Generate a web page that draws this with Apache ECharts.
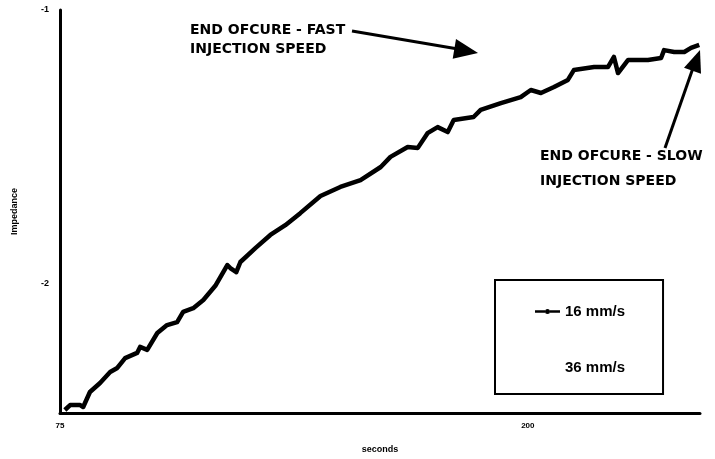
<!DOCTYPE html>
<html>
<head>
<meta charset="utf-8">
<style>
  html, body { margin: 0; padding: 0; background: #fff; }
  #chart { width: 715px; height: 459px; }
</style>
<script src="https://cdn.jsdelivr.net/npm/echarts@6/dist/echarts.min.js"></script>
</head>
<body>
<div id="chart"></div>
<script>
// Cure monitoring trace: impedance against time (seconds)
const seconds = [
  76.3, 77.7, 80.4, 81.2, 83.0, 85.7, 88.4, 90.3, 92.4, 95.6,
  96.4, 98.3, 101.0, 103.6, 106.3, 107.9, 110.6, 113.3, 116.5, 119.7,
  120.5, 122.1, 123.2, 127.2, 131.2, 135.2, 139.2, 144.6, 149.9, 155.3,
  160.7, 163.3, 167.9, 170.6, 173.2, 175.9, 178.6, 180.2, 185.5, 187.4,
  192.8, 198.1, 200.8, 203.5, 207.0, 210.7, 212.3, 217.7, 221.4, 223.0,
  224.1, 226.8, 232.1, 235.6, 236.4, 239.1, 241.8, 243.6, 245.8
];
const impedance = [
  -2.465, -2.447, -2.447, -2.454, -2.399, -2.366, -2.326, -2.311, -2.275, -2.256,
  -2.234, -2.245, -2.183, -2.154, -2.143, -2.106, -2.092, -2.062, -2.010, -1.934,
  -1.945, -1.960, -1.923, -1.872, -1.824, -1.788, -1.744, -1.681, -1.648, -1.623,
  -1.575, -1.538, -1.502, -1.505, -1.451, -1.429, -1.447, -1.403, -1.392, -1.366,
  -1.341, -1.319, -1.293, -1.304, -1.282, -1.256, -1.220, -1.209, -1.209, -1.172,
  -1.231, -1.183, -1.183, -1.176, -1.147, -1.154, -1.154, -1.139, -1.128
];
const seriesNames = ['16 mm/s', '36 mm/s'];
const xTickValues = [75, 200];
const yTickValues = [-1, -2];

const FONT = '"Liberation Sans", Arial, sans-serif';
const ANNOT_FONT = 'bold 14px "DejaVu Sans", sans-serif';
// legend marker: thin line with a solid dot in the middle
const LINE_DOT_ICON = 'path://M0,5.8H10V8.2H0Z M15,5.8H25V8.2H15Z M10,7A2.5,2.5 0 1,1 15,7A2.5,2.5 0 1,1 10,7Z';

const chart = echarts.init(document.getElementById('chart'), null, { renderer: 'canvas' });

chart.setOption({
  backgroundColor: '#ffffff',
  animation: false,
  grid: { left: 60, right: 15, top: 10, bottom: 46, outerBoundsMode: 'none' },
  xAxis: {
    type: 'value',
    min: 75,
    max: 246,
    name: 'seconds',
    nameLocation: 'middle',
    nameGap: 32,
    nameTextStyle: { fontFamily: FONT, fontWeight: 'bold', fontSize: 9, color: '#000' },
    axisLine: { show: true, lineStyle: { color: '#000', width: 3 } },
    axisTick: { show: false },
    splitLine: { show: false },
    axisLabel: {
      customValues: xTickValues,
      fontFamily: FONT, fontWeight: 'bold', fontSize: 8, color: '#000', margin: 9
    }
  },
  yAxis: {
    type: 'value',
    min: -2.476,
    max: -1,
    name: 'Impedance',
    nameLocation: 'middle',
    nameGap: 41,
    nameRotate: 90,
    nameTextStyle: { fontFamily: FONT, fontWeight: 'bold', fontSize: 9, color: '#000' },
    axisLine: { show: true, lineStyle: { color: '#000', width: 3 } },
    axisTick: { show: false },
    splitLine: { show: false },
    axisLabel: {
      customValues: yTickValues,
      fontFamily: FONT, fontWeight: 'bold', fontSize: 9, color: '#000', margin: 11
    }
  },
  legend: {
    orient: 'vertical',
    left: 495,
    top: 280,
    padding: [24, 38, 19, 40],
    itemGap: 41,
    itemWidth: 25,
    itemHeight: 14,
    symbolKeepAspect: true,
    borderColor: '#000',
    borderWidth: 2,
    backgroundColor: '#fff',
    textStyle: { fontFamily: FONT, fontWeight: 'bold', fontSize: 15, color: '#000' },
    data: [
      { name: seriesNames[0], icon: LINE_DOT_ICON },
      { name: seriesNames[1], icon: LINE_DOT_ICON, itemStyle: { opacity: 0 } }
    ]
  },
  series: [
    {
      name: seriesNames[0],
      type: 'line',
      data: seconds.map((s, i) => [s, impedance[i]]),
      showSymbol: false,
      symbol: 'circle',
      lineStyle: { color: '#000', width: 4.5, join: 'round' },
      itemStyle: { color: '#000' }
    },
    {
      name: seriesNames[1],
      type: 'line',
      data: [],
      showSymbol: false,
      lineStyle: { color: '#000', width: 2 },
      itemStyle: { color: '#000' }
    }
  ],
  graphic: [
    {
      type: 'text', left: 190, top: 21,
      style: { text: 'END OFCURE - FAST\nINJECTION SPEED', font: ANNOT_FONT, fill: '#000', lineHeight: 19 }
    },
    {
      type: 'text', left: 540, top: 144,
      style: { text: 'END OFCURE - SLOW\nINJECTION SPEED', font: ANNOT_FONT, fill: '#000', lineHeight: 25 }
    },
    {
      type: 'line',
      shape: { x1: 352, y1: 31, x2: 458, y2: 49 },
      style: { stroke: '#000', lineWidth: 3 }
    },
    {
      type: 'polygon',
      shape: { points: [[478, 53], [456, 39], [452.7, 58.7]] },
      style: { fill: '#000' }
    },
    {
      type: 'line',
      shape: { x1: 665, y1: 148, x2: 693, y2: 68 },
      style: { stroke: '#000', lineWidth: 3 }
    },
    {
      type: 'polygon',
      shape: { points: [[700, 50], [684, 67.7], [701, 73.7]] },
      style: { fill: '#000' }
    }
  ]
});
</script>
</body>
</html>
